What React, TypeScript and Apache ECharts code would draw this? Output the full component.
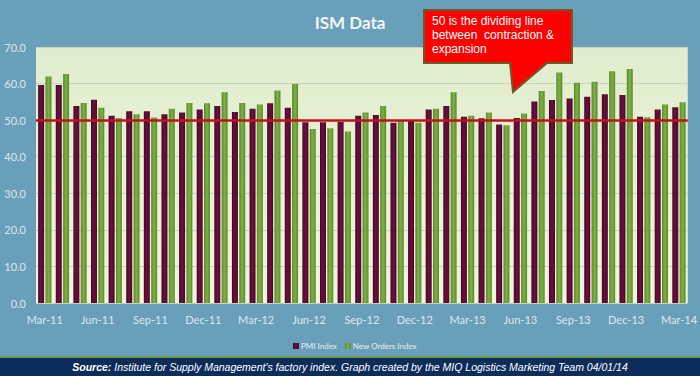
import React, { useEffect, useRef } from "react";
import * as echarts from "echarts";

const categories = [
  "Mar-11", "Apr-11", "May-11", "Jun-11", "Jul-11", "Aug-11", "Sep-11", "Oct-11", "Nov-11", "Dec-11",
  "Jan-12", "Feb-12", "Mar-12", "Apr-12", "May-12", "Jun-12", "Jul-12", "Aug-12", "Sep-12", "Oct-12",
  "Nov-12", "Dec-12", "Jan-13", "Feb-13", "Mar-13", "Apr-13", "May-13", "Jun-13", "Jul-13", "Aug-13",
  "Sep-13", "Oct-13", "Nov-13", "Dec-13", "Jan-14", "Feb-14", "Mar-14",
];

const pmiIndex = [
  59.6, 59.6, 53.9, 55.6, 51.2, 52.4, 52.4, 51.6, 52.1, 52.9,
  53.9, 52.2, 53.1, 54.6, 53.4, 49.4, 49.4, 49.5, 51.2, 51.4,
  49.3, 50.0, 52.9, 53.9, 50.9, 50.5, 48.8, 50.6, 55.1, 55.5,
  55.9, 56.4, 57.1, 56.9, 50.9, 52.9, 53.5,
];

const newOrdersIndex = [
  61.9, 62.6, 54.7, 53.4, 50.6, 51.6, 50.7, 53.1, 54.7, 54.6,
  57.6, 54.7, 54.3, 58.1, 59.9, 47.6, 47.8, 46.9, 52.1, 53.9,
  49.9, 49.3, 53.1, 57.6, 51.2, 52.1, 48.6, 51.8, 58.0, 63.0,
  60.2, 60.5, 63.4, 64.0, 50.8, 54.3, 54.9,
];

const seriesNames = ["PMI Index", "New Orders Index"];
const dividingLine = 50;
const titleText = "ISM Data";
const calloutLines = ["50 is the dividing line", "between  contraction &", "expansion"];
const sourceBold = "Source:";
const sourceRest = " Institute for Supply Management's factory index. Graph created by the MIQ Logistics Marketing Team 04/01/14";

export default function App() {
  const ref = useRef<HTMLDivElement>(null);

  useEffect(() => {
    if (!ref.current) return;
    const chart = echarts.init(ref.current, undefined, { renderer: "svg" });

    const hGrad = (edge: string, mid: string) =>
      new echarts.graphic.LinearGradient(0, 0, 1, 0, [
        { offset: 0, color: edge },
        { offset: 0.5, color: mid },
        { offset: 1, color: edge },
      ]);

    chart.setOption({
      animation: false,
      backgroundColor: "#6a9fba",
      title: {
        text: titleText,
        left: "center",
        top: 9,
        textStyle: { color: "#f2f6f8", fontSize: 17, fontWeight: "bold", fontFamily: "Lato" },
      },
      legend: {
        data: seriesNames,
        left: 288,
        top: 337,
        itemWidth: 6,
        itemHeight: 6,
        itemGap: 8,
        icon: "rect",
        textStyle: { color: "#e4eef3", fontSize: 8, fontFamily: "Lato", padding: [0, 0, 0, -3] },
      },
      grid: {
        left: 36,
        right: 10,
        top: 47,
        bottom: 73,
        show: true,
        borderWidth: 0,
        backgroundColor: new echarts.graphic.LinearGradient(0, 0, 0, 1, [
          { offset: 0, color: "#e1edce" },
          { offset: 1, color: "#f1f4df" },
        ]),
      },
      xAxis: {
        type: "category",
        data: categories,
        axisLine: { show: false },
        axisTick: { show: false },
        axisLabel: {
          interval: 2,
          color: "#dbe7ee",
          fontSize: 11,
          fontFamily: "Lato",
          margin: 11,
        },
      },
      yAxis: {
        type: "value",
        min: 0,
        max: 70,
        interval: 10,
        axisLine: { show: false },
        axisTick: { show: false },
        axisLabel: {
          color: "#dbe7ee",
          fontSize: 11,
          fontFamily: "Lato",
          margin: 10,
          formatter: (v: number) => v.toFixed(1),
        },
        splitLine: { lineStyle: { color: "#c6d4bd", width: 1 } },
      },
      series: [
        {
          name: seriesNames[0],
          type: "bar",
          data: pmiIndex,
          barWidth: 6,
          barGap: "22%",
          itemStyle: { color: hGrad("#4a0528", "#6c1040") },
          markLine: {
            silent: true,
            symbol: "none",
            label: { show: false },
            lineStyle: { color: "#c4101c", width: 2.5, type: "solid" },
            data: [{ yAxis: dividingLine }],
            z: 10,
          },
        },
        {
          name: seriesNames[1],
          type: "bar",
          data: newOrdersIndex,
          barWidth: 6,
          itemStyle: { color: hGrad("#5a8a28", "#7fb046") },
        },
      ],
      graphic: [
        {
          type: "polygon",
          z: 100,
          shape: {
            points: [
              [424, 10], [572, 10], [572, 63], [547, 63], [513, 92], [510, 63], [424, 63],
            ],
          },
          style: { fill: "#ff0000", stroke: "#6b5a2a", lineWidth: 2 },
        },
        ...calloutLines.map((t, i) => ({
          type: "text",
          z: 101,
          x: 432,
          y: 15 + i * 14,
          style: {
            text: t,
            fill: "#ffffff",
            font: "12px 'Liberation Sans', Arial, sans-serif",
          },
        })),
        {
          type: "rect",
          z: 50,
          shape: { x: 0, y: 356, width: 700, height: 2 },
          style: { fill: "#6c9a45" },
        },
        {
          type: "rect",
          z: 50,
          shape: { x: 0, y: 358, width: 700, height: 18 },
          style: { fill: "#0c2d5c" },
        },
        {
          type: "text",
          z: 51,
          x: 350,
          y: 367,
          style: {
            text: `{b|${sourceBold}}{r|${sourceRest}}`,
            align: "center",
            verticalAlign: "middle",
            rich: {
              b: { fill: "#ffffff", fontStyle: "italic", fontWeight: "bold", fontSize: 10.5, fontFamily: "'Liberation Sans', Arial" },
              r: { fill: "#ffffff", fontStyle: "italic", fontSize: 10.5, fontFamily: "'Liberation Sans', Arial" },
            },
          },
        },
      ],
    });

    return () => chart.dispose();
  }, []);

  return <div ref={ref} style={{ width: 700, height: 376, position: "absolute", left: 0, top: 0 }} />;
}
